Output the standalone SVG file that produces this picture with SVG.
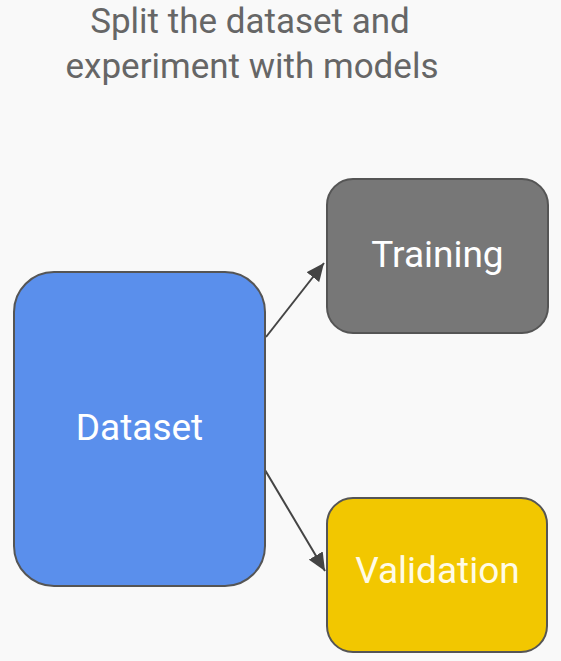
<svg xmlns="http://www.w3.org/2000/svg" width="561" height="661" viewBox="0 0 561 661">
<defs>
<marker id="ah" viewBox="0 0 10 10" refX="10" refY="5" markerWidth="9" markerHeight="8" markerUnits="strokeWidth" orient="auto" preserveAspectRatio="none">
<path d="M0,0 L10,5 L0,10 z" fill="#444"/>
</marker>
<style>
.box{stroke:#555;stroke-width:2}
.lbl{font-family:Roboto,"Liberation Sans",sans-serif;font-size:37px;fill:#fff;text-anchor:middle}
.title{font-family:Roboto,"Liberation Sans",sans-serif;font-size:35px;fill:#666;text-anchor:middle}
.conn{stroke:#444;stroke-width:2;fill:none}
</style>
</defs>
<rect width="561" height="661" fill="#f9f9f9"/>
<text class="title" x="250" y="33">Split the dataset and</text>
<text class="title" x="252" y="78">experiment with models</text>
<g id="connectors">
<line class="conn" x1="266" y1="337" x2="324" y2="263" marker-end="url(#ah)"/>
<line class="conn" x1="265" y1="470" x2="325" y2="571" marker-end="url(#ah)"/>
</g>
<g id="dataset">
<rect class="box" x="14" y="272" width="251" height="314" rx="40" fill="#5a8fec"/>
<text class="lbl" x="139.5" y="440">Dataset</text>
</g>
<g id="training">
<rect class="box" x="327" y="179" width="221" height="154" rx="26" fill="#777"/>
<text class="lbl" x="437.5" y="267">Training</text>
</g>
<g id="validation">
<rect class="box" x="327" y="498" width="220" height="154" rx="26" fill="#f2c700"/>
<text class="lbl" x="437.5" y="583" style="fill:#fffbe6">Validation</text>
</g>
</svg>
